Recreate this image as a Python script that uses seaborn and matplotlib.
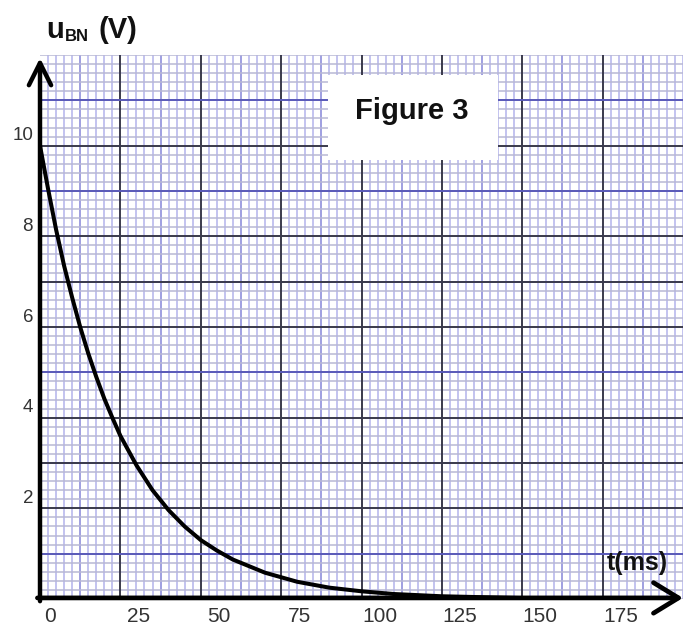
import numpy as np
import pandas as pd
import matplotlib
matplotlib.use("Agg")
import matplotlib.pyplot as plt
import seaborn as sns
from matplotlib.transforms import ScaledTranslation
from matplotlib.patches import Rectangle

# ---- data ----
t_ms = [0, 2.5, 5, 7.5, 10, 12.5, 15, 17.5, 20, 22.5, 25, 30, 35, 40, 45, 50,
        55, 60, 70, 80, 90, 100, 110, 125, 150]
u_bn = [10, 9.05, 8.15, 7.35, 6.65, 6.0, 5.42, 4.9, 4.42, 4.0, 3.6, 2.95, 2.4,
        1.96, 1.6, 1.3, 1.07, 0.87, 0.58, 0.38, 0.25, 0.17, 0.11, 0.06, 0.02]
x_ticks = [0, 25, 50, 75, 100, 125, 150, 175]
x_tick_labels = ["0", "25", "50", "75", "100", "125", "150", "175"]
y_ticks = [2, 4, 6, 8, 10]
y_tick_labels = ["2", "4", "6", "8", "10"]
blue_volt_lines = [1, 5, 9, 11]

df = pd.DataFrame({"t": t_ms, "u": u_bn})

sns.set_theme(style="white")
plt.rcParams["font.family"] = ["Liberation Sans", "DejaVu Sans"]

W, H = 695, 627
fig = plt.figure(figsize=(W / 100, H / 100), dpi=100)
fig.patch.set_facecolor("white")
ax = fig.add_axes([40 / W, 28 / H, 643 / W, 544 / H])
ax.set_facecolor("white")
ax.set_xlim(0, 200)
ax.set_ylim(0, 12)

minor_c = "#b3b3ec"
minor_hc = "#b8b8d4"
mid_c = "#5a5ab8"
dark_c = "#3a3a4c"

# minor grid
ax.set_xticks(np.arange(0, 200.01, 2.5), minor=True)
ax.set_yticks(np.arange(0, 12.01, 0.2), minor=True)
ax.grid(which="minor", axis="x", color=minor_c, lw=1.1, zorder=0)
ax.grid(which="minor", axis="y", color=minor_hc, lw=1.1, zorder=0)
# medium blue vertical lines
ax.vlines(np.arange(12.5, 200, 25), 0, 12, color=mid_c, lw=1.3, zorder=0.5)
# dark vertical lines
ax.vlines(np.arange(25, 200, 25), 0, 12, color=dark_c, lw=1.4, zorder=0.6)
# horizontal volt lines
for v in range(1, 12):
    c = mid_c if v in blue_volt_lines else dark_c
    ax.axhline(v, color=c, lw=1.4, zorder=0.6)

# curve
sns.lineplot(data=df, x="t", y="u", color="black", lw=2.9, ax=ax, zorder=3)
ax.set_xlabel("")
ax.set_ylabel("")

ax.set_xticks(x_ticks)
ax.set_xticklabels(x_tick_labels)
ax.set_yticks(y_ticks)
ax.set_yticklabels(y_tick_labels)
ax.tick_params(axis="x", length=0, pad=6, labelsize=15, colors="#333333")
ax.tick_params(axis="y", length=0, pad=5, labelsize=13.5, colors="#333333")
for s in ax.spines.values():
    s.set_visible(False)

for i, lbl in enumerate(ax.get_xticklabels()):
    dx = 0.10 if i == 0 else 0.18
    lbl.set_transform(lbl.get_transform() + ScaledTranslation(dx, 0, fig.dpi_scale_trans))
for lbl in ax.get_yticklabels():
    lbl.set_transform(lbl.get_transform() + ScaledTranslation(0, 0.12, fig.dpi_scale_trans))

# axis arrows
ax.annotate("", xy=(0, (599 - 58) / 544), xytext=(0, -0.004), xycoords="axes fraction",
            arrowprops=dict(arrowstyle="->,head_length=0.8,head_width=0.4", lw=3.2,
                            color="black", mutation_scale=20, shrinkA=0, shrinkB=0),
            annotation_clip=False, zorder=5)
ax.annotate("", xy=(1.0, 0.002), xytext=(-0.004, 0.002), xycoords="axes fraction",
            arrowprops=dict(arrowstyle="->,head_length=0.9,head_width=0.55", lw=3.4,
                            color="black", mutation_scale=20, shrinkA=0, shrinkB=0),
            annotation_clip=False, zorder=5)

# figure box
rect = Rectangle((328 / W, 1 - 160 / H), (498 - 328) / W, (160 - 75) / H,
                 transform=fig.transFigure, facecolor="white", edgecolor="none", zorder=4)
ax.add_patch(rect)
fig.text(412 / W, 1 - 111 / H, "Figure 3", fontsize=21, weight="bold", ha="center",
         va="center", color="#111111", zorder=6)

# axis titles
fig.text(46 / W, 1 - 38 / H, "u", fontsize=21, weight="bold", ha="left", va="baseline", color="#111111")
fig.text(65 / W, 1 - 41 / H, "BN", fontsize=12, weight="bold", ha="left", va="baseline", color="#111111")
fig.text(99 / W, 1 - 38 / H, "(V)", fontsize=21, weight="bold", ha="left", va="baseline", color="#111111")
fig.text(607 / W, 1 - 570 / H, "t(ms)", fontsize=18, weight="bold", ha="left", va="baseline", color="#111111")

fig.savefig("out.png", dpi=100, facecolor="white")
